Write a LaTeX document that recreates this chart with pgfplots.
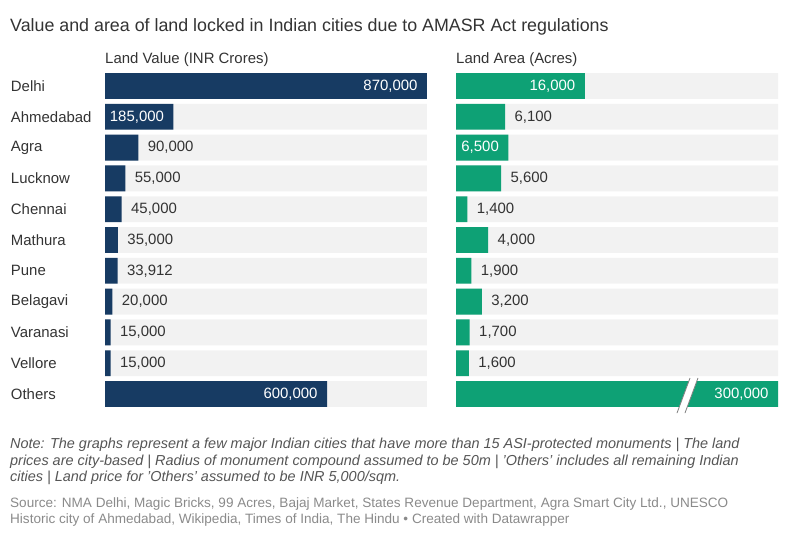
\documentclass[border=0pt]{standalone}
\usepackage{pgfplots}
\pgfplotsset{compat=1.18}
\usepackage{fontspec}
\setmainfont{Liberation Sans}
\definecolor{navy}{HTML}{173B63}
\definecolor{teal}{HTML}{0EA175}
\definecolor{bggray}{HTML}{F2F2F2}
\definecolor{txt}{HTML}{333333}
\definecolor{notec}{HTML}{555555}
\definecolor{srcc}{HTML}{8A8A8A}
\newcommand{\lbl}{\fontsize{15}{18}\selectfont}
\pgfplotsset{
  panel/.style={
    anchor=north west, width=322bp, height=338.8bp, scale only axis,
    xmin=0, ymin=-0.5, ymax=10.5, y dir=reverse,
    xbar, bar width=0.84, bar shift=0pt,
    hide x axis, axis line style={draw=none},
    ytick={0,...,10}, ytick style={draw=none},
    clip=false,
  },
  inlabel/.style={point meta=explicit symbolic, nodes near coords,
    nodes near coords style={anchor=east, text=white, xshift=-6bp, font=\lbl}},
  outlabel/.style={point meta=explicit symbolic, nodes near coords,
    nodes near coords style={anchor=west, text=txt, xshift=6bp, font=\lbl}},
}
\begin{document}
\begin{tikzpicture}[x=1bp,y=1bp]
\useasboundingbox (0,0) rectangle (789,-533);

\node[anchor=base west, inner sep=0, text=txt, font=\fontsize{17.9}{22}\selectfont]
  at (10,-32) {Value and area of land locked in Indian cities due to AMASR Act regulations};
\node[anchor=base west, inner sep=0, text=txt, font=\lbl] at (105,-64) {Land Value (INR Crores)};
\node[anchor=base west, inner sep=0, text=txt, font=\lbl] at (456,-64) {Land Area (Acres)};

% Land value
\begin{axis}[panel, at={(105bp,-70.6bp)}, xmax=870000,
  yticklabels={Delhi,Ahmedabad,Agra,Lucknow,Chennai,Mathura,Pune,Belagavi,Varanasi,Vellore,Others},
  yticklabel style={anchor=west, inner xsep=0pt, xshift=-90bp, font=\lbl, text=txt}]
\addplot[fill=bggray, draw=none] coordinates {
  (870000,0) (870000,1) (870000,2) (870000,3) (870000,4) (870000,5)
  (870000,6) (870000,7) (870000,8) (870000,9) (870000,10)};
\addplot[fill=navy, draw=none, inlabel] coordinates {
  (870000,0) [870,000] (185000,1) [185,000] (600000,10) [600,000]};
\addplot[fill=navy, draw=none, outlabel] coordinates {
  (90000,2) [90,000] (55000,3) [55,000] (45000,4) [45,000] (35000,5) [35,000]
  (33912,6) [33,912] (20000,7) [20,000] (15000,8) [15,000] (15000,9) [15,000]};
\end{axis}

% Land area
\begin{axis}[panel, at={(456bp,-70.6bp)}, xmax=40000, yticklabels={}]
\addplot[fill=bggray, draw=none] coordinates {
  (40000,0) (40000,1) (40000,2) (40000,3) (40000,4) (40000,5)
  (40000,6) (40000,7) (40000,8) (40000,9) (40000,10)};
\addplot[fill=teal, draw=none, inlabel, restrict x to domain*=0:40000] coordinates {
  (16000,0) [16,000] (6500,2) [6,500] (300000,10) [300,000]};
\addplot[fill=teal, draw=none, outlabel] coordinates {
  (6100,1) [6,100] (5600,3) [5,600] (1400,4) [1,400] (4000,5) [4,000]
  (1900,6) [1,900] (3200,7) [3,200] (1700,8) [1,700] (1600,9) [1,600]};
% axis break on the clipped bar
\fill[white] (axis cs:29070,9.48) -- (axis cs:30060,9.48) -- (axis cs:28440,10.62) -- (axis cs:27450,10.62) -- cycle;
\draw[gray, line width=0.8bp] (axis cs:29070,9.48) -- (axis cs:27450,10.62);
\draw[gray, line width=0.8bp] (axis cs:30060,9.48) -- (axis cs:28440,10.62);
\end{axis}

\begin{scope}[every node/.style={anchor=base west, inner sep=0, font=\fontsize{14.5}{16}\selectfont\itshape, text=notec}]
\node at (10,-448.5) {Note: The graphs represent a few major Indian cities that have more than 15 ASI-protected monuments | The land};
\node at (10,-465) {prices are city-based | Radius of monument compound assumed to be 50m | 'Others' includes all remaining Indian};
\node at (10,-481.5) {cities | Land price for 'Others' assumed to be INR 5,000/sqm.};
\end{scope}
\begin{scope}[every node/.style={anchor=base west, inner sep=0, font=\fontsize{13.6}{16}\selectfont, text=srcc}]
\node at (10,-507) {Source: NMA Delhi, Magic Bricks, 99 Acres, Bajaj Market, States Revenue Department, Agra Smart City Ltd., UNESCO};
\node at (10,-523) {Historic city of Ahmedabad, Wikipedia, Times of India, The Hindu • Created with Datawrapper};
\end{scope}
\end{tikzpicture}
\end{document}
